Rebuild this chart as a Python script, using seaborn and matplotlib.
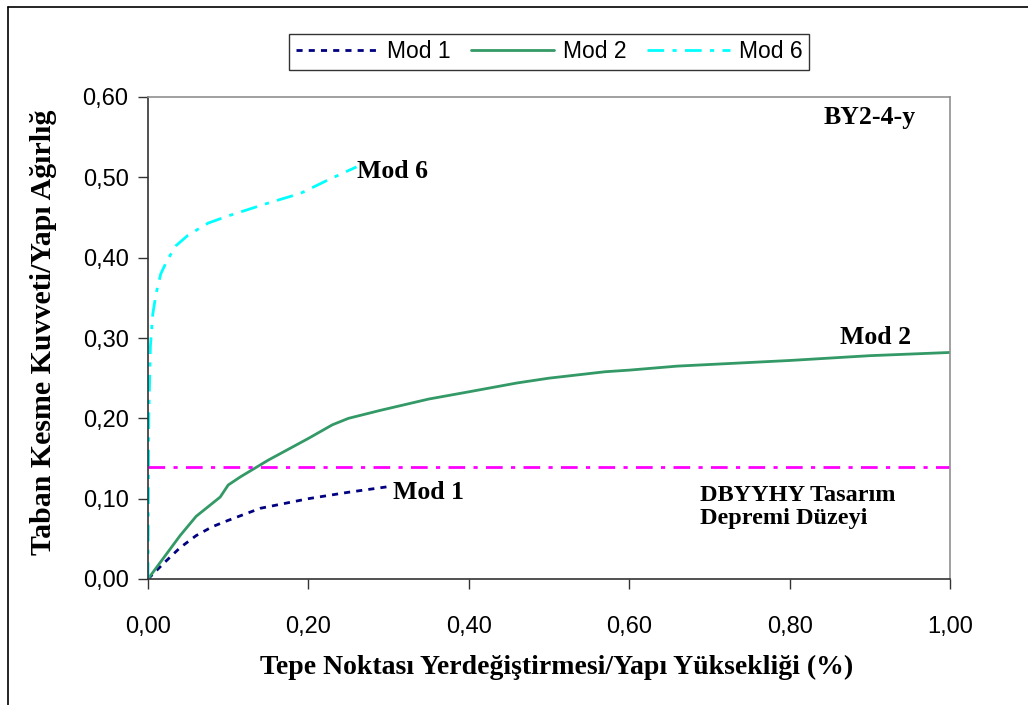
import matplotlib
matplotlib.use("Agg")
import matplotlib.pyplot as plt
from matplotlib.lines import Line2D
import seaborn as sns
import pandas as pd

# values
mod1_x = [0, 0.02, 0.04, 0.06, 0.08, 0.10, 0.14, 0.20, 0.25, 0.30]
mod1_y = [0, 0.020, 0.039, 0.054, 0.065, 0.073, 0.088, 0.100, 0.108, 0.115]

mod2_x = [0, 0.02, 0.04, 0.06, 0.09, 0.10, 0.115, 0.15, 0.20, 0.23, 0.25, 0.29,
          0.35, 0.40, 0.46, 0.50, 0.57, 0.60, 0.66, 0.70, 0.80, 0.85, 0.90, 1.00]
mod2_y = [0, 0.027, 0.054, 0.078, 0.102, 0.117, 0.127, 0.148, 0.175, 0.192, 0.200, 0.210,
          0.224, 0.233, 0.244, 0.250, 0.258, 0.260, 0.265, 0.267, 0.272, 0.275, 0.278, 0.282]

mod6_x = [0, 0.001, 0.003, 0.006, 0.010, 0.016, 0.024, 0.035, 0.05, 0.075, 0.10,
          0.125, 0.15, 0.19, 0.225, 0.26]
mod6_y = [0, 0.20, 0.29, 0.33, 0.355, 0.38, 0.397, 0.415, 0.428, 0.443, 0.452,
          0.46, 0.468, 0.48, 0.497, 0.513]

level_x = [0, 1.0]
level_y = [0.14, 0.14]

xticks = [0, 0.2, 0.4, 0.6, 0.8, 1.0]
xtick_labels = ["0,00", "0,20", "0,40", "0,60", "0,80", "1,00"]
yticks = [0, 0.1, 0.2, 0.3, 0.4, 0.5, 0.6]
ytick_labels = ["0,00", "0,10", "0,20", "0,30", "0,40", "0,50", "0,60"]

sns.set_style("white")
plt.rcParams['font.family'] = ['Liberation Sans', 'DejaVu Sans']
plt.rcParams['text.color'] = 'black'
plt.rcParams['xtick.color'] = 'black'
plt.rcParams['ytick.color'] = 'black'
plt.rcParams['axes.labelcolor'] = 'black'

fig = plt.figure(figsize=(10.28, 7.05), dpi=100)
ax = fig.add_axes([148/1028, 1-579/705, 802/1028, 482/705])

df1 = pd.DataFrame({'x': mod1_x, 'y': mod1_y})
df2 = pd.DataFrame({'x': mod2_x, 'y': mod2_y})
df6 = pd.DataFrame({'x': mod6_x, 'y': mod6_y})
dfl = pd.DataFrame({'x': level_x, 'y': level_y})

sns.lineplot(data=df1, x='x', y='y', ax=ax, color='#000080', lw=2,
             linestyle=(0, (2.2, 2.2)), sort=False, estimator=None, label='Mod 1')
sns.lineplot(data=df2, x='x', y='y', ax=ax, color='#339966', lw=2,
             sort=False, estimator=None, label='Mod 2')
sns.lineplot(data=df6, x='x', y='y', ax=ax, color='#00FFFF', lw=2,
             linestyle=(0, (6, 3, 1.5, 3)), sort=False, estimator=None, label='Mod 6')
sns.lineplot(data=dfl, x='x', y='y', ax=ax, color='#FF00FF', lw=2,
             linestyle=(0, (6, 3, 1.5, 3)), sort=False, estimator=None, legend=False)

ax.set_xlim(0, 1.0)
ax.set_ylim(0, 0.6)
ax.set_xticks(xticks)
ax.set_xticklabels(xtick_labels)
ax.set_yticks(yticks)
ax.set_yticklabels(ytick_labels)
ax.tick_params(axis='both', labelsize=17, length=7, width=1, color='#333333',
               direction='out', left=True, bottom=True)
ax.tick_params(axis='y', pad=7)
ax.tick_params(axis='x', pad=20)

for s in ['top', 'right']:
    ax.spines[s].set_color('#909090')
    ax.spines[s].set_linewidth(1.2)
for s in ['left', 'bottom']:
    ax.spines[s].set_color('#333333')
    ax.spines[s].set_linewidth(1.2)

serif = ['Liberation Serif', 'DejaVu Serif']
ax.set_xlabel('Tepe Noktası Yerdeğiştirmesi/Yapı Yüksekliği (%)', family=serif,
              fontweight='bold', fontsize=20)
ax.xaxis.set_label_coords(0.51, -0.183)
ax.xaxis.label.set_va('center')
ax.set_ylabel('Taban Kesme Kuvveti/Yapı Ağırlığ', family=serif,
              fontweight='bold', fontsize=21.5)
ax.yaxis.set_label_coords(-0.13, 0.512)
ax.yaxis.label.set_va('center')

ax.text(0.261, 0.507, 'Mod 6', family=serif, fontweight='bold', fontsize=18.5, va='center')
ax.text(0.863, 0.301, 'Mod 2', family=serif, fontweight='bold', fontsize=18.5, va='center')
ax.text(0.305, 0.108, 'Mod 1', family=serif, fontweight='bold', fontsize=18.5, va='center')
ax.text(0.842, 0.574, 'BY2-4-y', family=serif, fontweight='bold', fontsize=18.5, va='center')
ax.text(0.688, 0.0896, 'DBYYHY Tasarım\nDepremi Düzeyi', family=serif, fontweight='bold',
        fontsize=17.5, va='center', linespacing=1.1)

leg = ax.legend(loc='center', bbox_to_anchor=(549/1028, 1-52/705),
                bbox_transform=fig.transFigure, ncol=3, fontsize=16.5,
                frameon=True, fancybox=False, handlelength=3.6, handletextpad=0.4,
                columnspacing=0.9, borderpad=0.3)
leg.get_frame().set_edgecolor('black')
leg.get_frame().set_linewidth(1)

# outer chart frame (only top and left edges visible)
fig.add_artist(Line2D([8/1028, 1], [1-7/705, 1-7/705], color='black', lw=1.2,
                      transform=fig.transFigure))
fig.add_artist(Line2D([8/1028, 8/1028], [0, 1-7/705], color='black', lw=1.2,
                      transform=fig.transFigure))

plt.savefig('out.png', dpi=100)
